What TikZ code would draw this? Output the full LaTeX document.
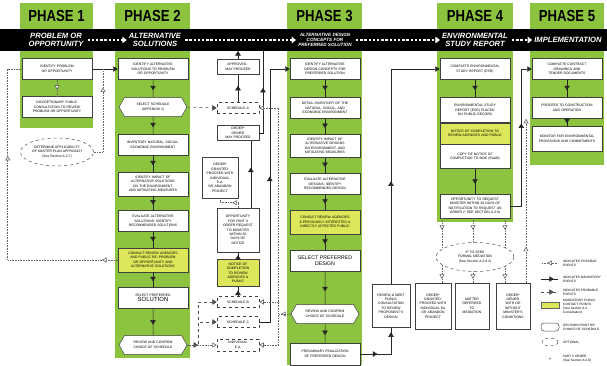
\documentclass[tikz,border=0pt]{standalone}
\usepackage{fontspec}
\setmainfont{Liberation Sans}
\usetikzlibrary{positioning,arrows.meta,shapes.geometric,shapes.symbols,decorations.markings}

\definecolor{phasegreen}{RGB}{141,196,63}
\definecolor{consultyellow}{RGB}{222,230,90}

\hyphenpenalty=10000
\exhyphenpenalty=10000

\newcommand{\boxfont}{\fontsize{3.4}{4.4}\selectfont}
\newcommand{\legfont}{\fontsize{3.2}{3.9}\selectfont}
\newcommand{\bandfont}{\fontsize{7.6}{8.2}\selectfont\bfseries\itshape}
\newcommand{\phasetitle}[1]{\scalebox{0.82}[1]{\fontsize{16}{16}\selectfont\bfseries #1}}

\tikzset{
  colbox/.style={draw=black!75, fill=white, line width=.5pt, align=center, font=\boxfont, text width=58pt, minimum width=70pt, minimum height=21pt, inner sep=1pt},
  consultbox/.style={colbox, fill=consultyellow},
  sidebox/.style={draw=black!75, fill=white, line width=.5pt, align=center, font=\boxfont, text width=36pt, minimum width=42pt, inner sep=1pt},
  schedbox/.style={sidebox, dashed, minimum height=11pt},
  hexbox/.style={signal, signal to=east and west, signal pointer angle=120, draw=black!75, fill=white, line width=.5pt, align=center, font=\boxfont, text width=46pt, minimum width=68pt, minimum height=19pt, inner sep=1pt},
  optellipse/.style={ellipse, draw=black!70, dashed, fill=white, line width=.5pt, align=center, font=\boxfont, inner sep=0pt},
  flowline/.style={draw=black!85, line width=.5pt},
  filltip/.style={postaction={decorate, decoration={markings, mark=at position #1 with {\arrow{Triangle[width=5.5pt,length=4.5pt]}}}}},
  opentip/.style={postaction={decorate, decoration={markings, mark=at position #1 with {\arrow[solid]{Triangle[fill=white,width=5pt,length=4.5pt]}}}}},
  flow/.style={flowline, filltip=0.6},
  dotline/.style={draw=black!60, densely dotted, line width=.6pt},
  probable/.style={draw=black!70, dashed, line width=.5pt, -{Triangle[width=5.5pt,length=4.5pt]}},
  tipend/.style={-{Triangle[width=5.5pt,length=4.5pt]}},
  tipopen/.style={-{Triangle[fill=white,width=5pt,length=4.5pt]}},
  phasehead/.style={inner sep=0pt},
  bandtext/.style={text=white, font=\bandfont, align=center, inner sep=1pt},
  bandarrow/.style={white, line width=2.4pt, dash pattern=on 2.4pt off 1.8pt, -{Triangle[width=6.5pt,length=4.5pt]}, shorten <=3pt, shorten >=1pt},
  legtext/.style={anchor=west, align=left, font=\legfont, inner sep=0pt}
}

\begin{document}
\begin{tikzpicture}[x=1pt,y=-1pt]
\useasboundingbox (0,0) rectangle (607,365);
% Phase columns
\fill[phasegreen] (20,3) rectangle (93,128);
\fill[phasegreen] (115,3) rectangle (190,358);
\fill[phasegreen] (287,3) rectangle (362,365);
\fill[phasegreen] (437,3) rectangle (513,222);
\fill[phasegreen] (530,3) rectangle (604,165);
% Banner
\fill[black] (0,29) rectangle (607,51);
\node[phasehead] (ph1) at (56.5,16) {\phasetitle{PHASE 1}};
\node[phasehead] (ph2) at (152.5,16) {\phasetitle{PHASE 2}};
\node[phasehead] (ph3) at (324.5,16) {\phasetitle{PHASE 3}};
\node[phasehead] (ph4) at (475,16) {\phasetitle{PHASE 4}};
\node[phasehead] (ph5) at (567,16) {\phasetitle{PHASE 5}};
\node[bandtext] (bt1) at (56,40) {PROBLEM OR\\OPPORTUNITY};
\node[bandtext] (bt2) at (155,40) {ALTERNATIVE\\SOLUTIONS};
\node[bandtext, font=\fontsize{4.6}{5.3}\selectfont\bfseries\itshape] (bt3) at (325,40) {ALTERNATIVE DESIGN\\CONCEPTS FOR\\PREFERRED SOLUTION};
\node[bandtext] (bt4) at (475,40) {ENVIRONMENTAL\\STUDY REPORT};
\node[bandtext] (bt5) at (568,40) {IMPLEMENTATION};
\draw[bandarrow] (bt1) -- (bt2);
\draw[bandarrow] (bt2) -- (bt3);
\draw[bandarrow] (bt3) -- (bt4);
\draw[bandarrow] (bt4) -- (bt5);

% Phase 1
\node[colbox] (p1a) at (57,69) {IDENTIFY PROBLEM OR OPPORTUNITY};
\node[colbox] (p1b) at (57,107) {DISCRETIONARY PUBLIC CONSULTATION TO REVIEW PROBLEM OR OPPORTUNITY};
\node[optellipse, minimum width=73pt, minimum height=28pt] (p1c) at (57,152) {DETERMINE APPLICABILITY\\OF MASTER PLAN APPROACH\\(See Section A.2.7)};

% Phase 2
\node[colbox] (p2a) at (153,69) {IDENTIFY ALTERNATIVE SOLUTIONS TO PROBLEM OR OPPORTUNITY};
\node[hexbox] (p2b) at (153,107) {SELECT SCHEDULE\\(APPENDIX 1)};
\node[colbox] (p2c) at (153,145) {INVENTORY NATURAL, SOCIAL, ECONOMIC ENVIRONMENT};
\node[colbox, minimum height=24pt] (p2d) at (153,184) {IDENTIFY IMPACT OF ALTERNATIVE SOLUTIONS ON THE ENVIRONMENT, AND MITIGATING MEASURES};
\node[colbox] (p2e) at (153,221) {EVALUATE ALTERNATIVE SOLUTIONS: IDENTIFY RECOMMENDED SOLUTIONS};
\node[consultbox, minimum height=24pt] (p2f) at (153,260) {CONSULT REVIEW AGENCIES AND PUBLIC RE: PROBLEM OR OPPORTUNITY AND ALTERNATIVE SOLUTIONS};
\node[colbox] (p2g) at (153,298) {SELECT PREFERRED\\{\fontsize{6}{7}\selectfont SOLUTION}};
\node[hexbox] (p2h) at (153,345) {REVIEW AND CONFIRM\\CHOICE OF SCHEDULE};

% Schedules
\node[sidebox, minimum height=15pt] (apprv) at (238,67) {APPROVED -\\MAY PROCEED};
\node[schedbox] (schA) at (238,108) {SCHEDULE A};
\node[sidebox, minimum height=15pt] (denied) at (238,133) {ORDER*\\DENIED\\MAY PROCEED};
\node[sidebox, text width=32pt, minimum width=36pt, minimum height=41pt] (granted) at (220,178) {ORDER*\\GRANTED:\\PROCEED WITH\\INDIVIDUAL\\E.A.\\OR ABANDON\\PROJECT};
\node[sidebox, minimum height=44pt] (opport) at (238,230) {OPPORTUNITY\\FOR PART II\\ORDER REQUEST\\TO MINISTER\\WITHIN 30\\DAYS OF\\NOTICE};
\node[sidebox, fill=consultyellow, minimum height=27pt] (noticeB) at (238,273) {NOTICE OF\\COMPLETION\\TO REVIEW\\AGENCIES \&\\PUBLIC};
\node[schedbox] (schB) at (238,302) {SCHEDULE B};
\node[schedbox] (schC) at (238,322) {SCHEDULE C};
\node[schedbox, minimum height=12pt] (indEA) at (238,345) {INDIVIDUAL\\E.A.};

% Phase 3
\node[colbox] (p3a) at (325,69) {IDENTIFY ALTERNATIVE DESIGN CONCEPTS FOR PREFERRED SOLUTION};
\node[colbox] (p3b) at (325,108) {DETAIL INVENTORY OF THE NATURAL, SOCIAL, AND ECONOMIC ENVIRONMENT};
\node[colbox, minimum height=23pt] (p3c) at (325,146) {IDENTIFY IMPACT OF ALTERNATIVE DESIGNS ON ENVIRONMENT, AND MITIGATING MEASURES};
\node[colbox] (p3d) at (325,184) {EVALUATE ALTERNATIVE DESIGNS: IDENTIFY RECOMMENDED DESIGN};
\node[consultbox, minimum height=24pt] (p3e) at (325,222) {CONSULT REVIEW AGENCIES \& PREVIOUSLY INTERESTED \& DIRECTLY AFFECTED PUBLIC};
\node[colbox, font=\fontsize{5.2}{6.4}\selectfont] (p3f) at (325,261) {SELECT PREFERRED\\DESIGN};
\node[hexbox] (p3g) at (325,314) {REVIEW AND CONFIRM\\CHOICE OF SCHEDULE};
\node[colbox, minimum height=22pt] (p3h) at (325,354) {PRELIMINARY FINALIZATION OF PREFERRED DESIGN};
\node[sidebox, text width=34pt, minimum width=38pt, minimum height=43pt] (meet) at (391,306) {REVIEW \& MEET\\PUBLIC\\CONSULTATION\\TO REVIEW\\PROPONENT'S\\DESIGN};

% Phase 4
\node[colbox] (p4a) at (475,69) {COMPLETE ENVIRONMENTAL STUDY REPORT (ESR)};
\node[colbox, minimum height=25pt] (p4b) at (475,110) {ENVIRONMENTAL STUDY REPORT (ESR) PLACED ON PUBLIC RECORD};
\node[consultbox, below=0pt of p4b] (p4c) {NOTICE OF COMPLETION TO REVIEW AGENCIES AND PUBLIC};
\node[colbox, minimum height=24pt, below=0pt of p4c] (p4d) {COPY OF NOTICE OF COMPLETION TO MOE (EAAB)};
\node[colbox, minimum height=24pt] (p4e) at (475,206) {OPPORTUNITY TO REQUEST MINISTER WITHIN 30 DAYS OF NOTIFICATION TO REQUEST AN ORDER (* SEE SECTION A.2.8)};
\node[sidebox, text width=32pt, minimum width=36pt, minimum height=46pt] (ordA) at (433,306) {ORDER*\\GRANTED:\\PROCEED WITH\\INDIVIDUAL EA\\OR ABANDON\\PROJECT};
\node[sidebox, text width=30pt, minimum width=34pt, minimum height=46pt] (ordB) at (472,306) {MATTER\\REFERRED\\TO\\MEDIATION};
\node[sidebox, text width=30pt, minimum width=34pt, minimum height=46pt] (ordC) at (513,306) {ORDER*\\DENIED\\WITH OR\\WITHOUT\\MINISTER'S\\CONDITIONS};

% Phase 5
\node[colbox] (p5a) at (567,69) {COMPLETE CONTRACT DRAWINGS AND TENDER DOCUMENTS};
\node[colbox] (p5b) at (567,108) {PROCEED TO CONSTRUCTION AND OPERATION};
\node[colbox, minimum height=25pt] (p5c) at (567,139) {MONITOR FOR ENVIRONMENTAL PROVISIONS AND COMMITMENTS};

% Connectors, phase 1
\coordinate (join1) at (103,69);
\draw[flowline, tipend] (p1a) -- (p2a);
\draw[dotline, opentip=0.6] (p1a) -- (p1b);
\draw[dotline, opentip=0.8] (p1c.east) -| (join1);
\draw[dotline, opentip=0.05, opentip=0.68] (p2f.west) -| ([xshift=-14pt]p1a.west) -- (p1a.west);

% Connectors, phase 2
\foreach \a/\b in {p2a/p2b, p2b/p2c, p2c/p2d, p2d/p2e, p2e/p2f, p2f/p2g, p2g/p2h}
  \draw[flow] (\a) -- (\b);
\draw[probable] (p2b.east) -- (schA.west);
\draw[probable, filltip=0.15] (p2h.east) -- ++(11,0) |- (schB.west);
\draw[probable] (p2h.east) -- ++(11,0) |- (schC.west);
\draw[dotline, tipopen] (p2h.east) -- (indEA.west);

% Schedules
\coordinate (bandA) at (238,51);
\coordinate (bandB) at (263,51);
\draw[flow] (schA) -- (apprv);
\draw[flowline, tipend] (apprv) -- (bandA);
\draw[flowline, filltip=0.57] (denied.east) -| (bandB);
\draw[flow] (opport.60) -- (opport.60 |- denied.south);
\draw[dotline, opentip=0.4] (opport.north) -- ++(0,-5) -| (granted.south);
\draw[flow] (schB) -- (noticeB);
\draw[flow] (noticeB) -- (opport);
\draw[flowline, filltip=0.55, tipend] (schC.east) -- ++(10.5,0) |- (p3a.west);
\draw[dotline, opentip=0.04, tipopen] (p3g.west) -- ++(-12,0) |- (schA.east);
\draw[dotline, tipopen] (p3g.west) -- ++(-12,0) |- (schB.east);
\draw[dotline, tipopen] (p3g.west) -- ++(-12,0) |- (indEA.east);

% Connectors, phase 3
\foreach \a/\b in {p3a/p3b, p3b/p3c, p3c/p3d, p3d/p3e, p3e/p3f, p3f/p3g, p3g/p3h}
  \draw[flow] (\a) -- (\b);
\draw[flowline, filltip=0.3, filltip=0.92] (p3h.east) -| (meet.south);
\draw[flowline, filltip=0.39, tipend] (meet.north) |- (p4a.west);

% Connectors, phase 4
\draw[flow] (p4a) -- (p4b);
\draw[flow] (p4d) -- (p4e);
\draw[flowline, filltip=0.59, tipend] (p4e.east) -- ++(11,0) |- (p5a.west);
\coordinate (medA) at ([xshift=9pt]ordA.north);
\coordinate (medB) at ([xshift=1pt]ordB.north);
\coordinate (medC) at ([xshift=-8pt]ordC.north);
\coordinate (medD) at ([xshift=13pt]ordC.north);
\foreach \m in {medA, medB, medC}
  \draw[dotline, opentip=0.18, opentip=0.94] (\m |- p4e.south) -- (\m);
\node[optellipse, minimum width=78pt, minimum height=29pt] (medi) at (475,257) {IF TO SEEK\\FORMAL MEDIATION\\(See Section A.2.8.2)};
\draw[dotline, opentip=0.22, tipopen] (medD) -- (medD |- p5b.south);

% Connectors, phase 5
\draw[flow] (p5a) -- (p5b);
\draw[flow] (p5b) -- (p5c);

% Legend
\draw[dotline, opentip=0.6] (557,263) -- (541,263);
\draw[flowline, filltip=0.75] (541,279) -- (558,279);
\draw[draw=black!70, dashed, line width=.5pt, filltip=0.75] (541,292) -- (558,292);
\draw[fill=consultyellow, draw=black!60] (541,302) rectangle (559,308);
\draw[draw=black!70, line width=.5pt, rounded corners=3pt] (541,323) rectangle (559,331);
\draw[draw=black!70, dashed, line width=.5pt] (550,342) ellipse (8 and 4);
\node[font=\fontsize{5}{5}\selectfont] (lgstar) at (550,360) {*};
\node[legtext] (lg1) at (563,263) {INDICATES POSSIBLE\\EVENTS};
\node[legtext] (lg2) at (563,279) {INDICATES MANDATORY\\EVENTS};
\node[legtext] (lg3) at (563,292) {INDICATES PROBABLE\\EVENTS};
\node[legtext] (lg4) at (563,307) {MANDATORY PUBLIC\\CONTACT POINTS\\(See Section A.3\\Consultation)};
\node[legtext] (lg5) at (563,327) {DECISION POINT RE:\\CHOICE OF SCHEDULE};
\node[legtext] (lg6) at (563,342) {OPTIONAL};
\node[legtext] (lg7) at (563,359) {PART II ORDER\\(See Section A.2.8)};
\end{tikzpicture}
\end{document}
